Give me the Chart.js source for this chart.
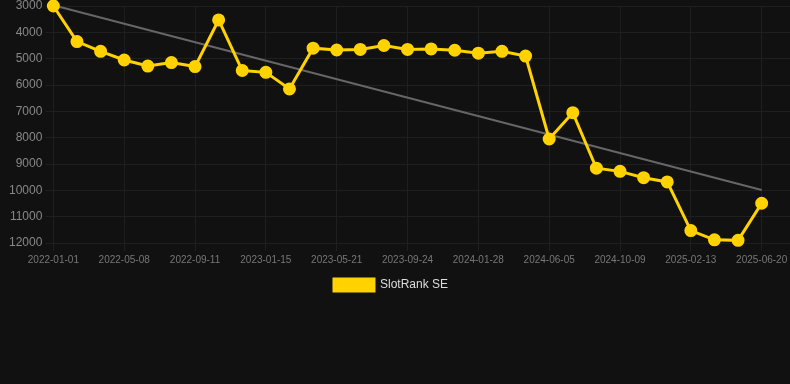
<!DOCTYPE html>
<html>
<head>
<meta charset="utf-8">
<script src="https://cdn.jsdelivr.net/npm/chart.js@4/dist/chart.umd.min.js"></script>
<style>
  html, body { margin: 0; padding: 0; background: #111111; }
  #wrap { width: 790px; height: 301px; position: relative; }
</style>
</head>
<body>
<div id="wrap"><canvas id="rank"></canvas></div>
<script>
// rank values, one every ~6 weeks from 2022-01-01
var rankValues = [3000, 4350, 4720, 5050, 5280, 5150, 5300, 3530, 5450, 5520,
                  6150, 4600, 4670, 4650, 4500, 4650, 4630, 4680, 4790, 4720,
                  4900, 8050, 7050, 9160, 9280, 9520, 9680, 11530, 11880, 11900,
                  10490];
var tickLabels = ["2022-01-01", "2022-05-08", "2022-09-11", "2023-01-15", "2023-05-21",
                  "2023-09-24", "2024-01-28", "2024-06-05", "2024-10-09", "2025-02-13",
                  "2025-06-20"];
var trendStart = 2970;
var trendEnd = 9990;
var seriesName = "SlotRank SE";

Chart.defaults.font.family = "'Liberation Sans', Arial, sans-serif";

var points = [];
for (var i = 0; i < rankValues.length; i++) {
    points.push({x: i, y: rankValues[i]});
}
var last = rankValues.length - 1;

// legend sits a little left of centre in the original
var legendShift = {
    id: 'legendShift',
    afterUpdate: function(chart) {
        chart.legend.left -= 7;
        chart.legend.right -= 7;
        chart.legend.adjustHitBoxes();
    }
};

var ctx = document.getElementById("rank").getContext('2d');
var myChart = new Chart(ctx, {
    type: 'line',
    data: {
        datasets: [{
            label: seriesName,
            data: points,
            borderColor: '#ffd200',
            backgroundColor: '#ffd200',
            borderWidth: 3,
            pointRadius: 5,
            pointHoverRadius: 5,
            fill: false,
            clip: false,
            tension: 0
        },
        {
            label: 'trend',
            data: [{x: 0, y: trendStart}, {x: last, y: trendEnd}],
            borderColor: '#666666',
            borderWidth: 2,
            pointRadius: 0,
            fill: false,
            clip: false
        }]
    },
    options: {
        responsive: true,
        maintainAspectRatio: false,
        animation: false,
        layout: { autoPadding: false, padding: { left: 6, top: 0, right: 0 } },
        scales: {
            x: {
                type: 'linear',
                min: 0,
                max: 31.2,
                grid: { color: '#1f1f1f' },
                border: { color: '#1f1f1f' },
                afterFit: function(scale) { scale.paddingRight = 0; },
                ticks: {
                    stepSize: 3,
                    includeBounds: false,
                    autoSkip: false,
                    maxRotation: 0,
                    color: '#777777',
                    font: { size: 10 },
                    callback: function(v) { return v % 3 === 0 ? tickLabels[v / 3] : ''; }
                }
            },
            y: {
                reverse: true,
                min: 3000,
                max: 12000,
                grid: { color: '#1f1f1f' },
                border: { color: '#1f1f1f' },
                afterFit: function(scale) { scale.paddingTop = 6; },
                ticks: {
                    stepSize: 1000,
                    color: '#888888',
                    font: { size: 12 },
                    callback: function(v) { return String(v); }
                }
            }
        },
        plugins: {
            legend: {
                position: 'bottom',
                labels: {
                    color: '#dddddd',
                    boxWidth: 40,
                    boxHeight: 12,
                    font: { size: 12 },
                    filter: function(item) { return item.text !== 'trend'; }
                }
            },
            tooltip: { enabled: false }
        }
    },
    plugins: [legendShift]
});
</script>
</body>
</html>
